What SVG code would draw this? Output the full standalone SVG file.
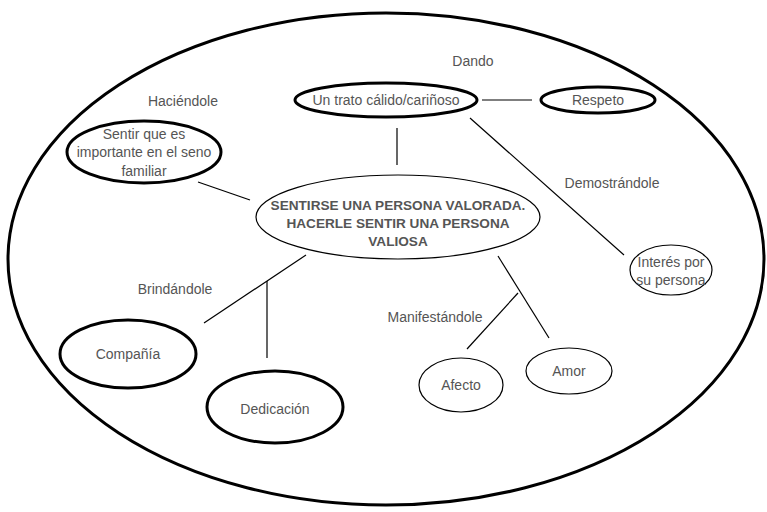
<svg xmlns="http://www.w3.org/2000/svg" width="767" height="512" viewBox="0 0 767 512">
<style>
text{font-family:"Liberation Sans",Arial,sans-serif;font-size:14px;fill:#555;text-anchor:middle}
.b{font-weight:bold;font-size:13.6px}
.thick{fill:none;stroke:#000;stroke-width:3}
.thin{fill:none;stroke:#000;stroke-width:1.2}
.c line{stroke:#000;stroke-width:1.2}
</style>
<rect width="767" height="512" fill="#fff"/>
<ellipse cx="386" cy="259" rx="378" ry="246" class="thick"/>
<g class="c" id="connectors">
<line x1="482" y1="100" x2="532" y2="100"/>
<line x1="397" y1="128" x2="397" y2="165"/>
<line x1="470" y1="118" x2="624" y2="255"/>
<line x1="198" y1="182" x2="250" y2="200"/>
<line x1="306" y1="255" x2="204" y2="323"/>
<line x1="267" y1="281" x2="267" y2="358"/>
<line x1="498" y1="256" x2="549" y2="338"/>
<line x1="518" y1="293" x2="467" y2="349"/>
</g>
<g id="labels">
<text x="473" y="66">Dando</text>
<text x="183" y="106">Haciéndole</text>
<text x="612" y="188">Demostrándole</text>
<text x="175" y="294">Brindándole</text>
<text x="435" y="322">Manifestándole</text>
</g>
<g id="central">
<ellipse cx="398" cy="217" rx="142" ry="42" class="thin"/>
<text class="b" x="398" y="210">SENTIRSE UNA PERSONA VALORADA.</text>
<text class="b" x="398" y="228">HACERLE SENTIR UNA PERSONA</text>
<text class="b" x="398" y="246">VALIOSA</text>
</g>
<g id="trato">
<ellipse cx="386" cy="100" rx="91" ry="17" class="thick"/>
<text x="386" y="105">Un trato cálido/cariñoso</text>
</g>
<g id="respeto">
<ellipse cx="598" cy="100" rx="57" ry="13" class="thick"/>
<text x="598" y="105">Respeto</text>
</g>
<g id="sentir">
<ellipse cx="144" cy="152" rx="77" ry="31" class="thick"/>
<text x="144" y="139">Sentir que es</text>
<text x="144" y="157">importante en el seno</text>
<text x="144" y="176">familiar</text>
</g>
<g id="interes">
<ellipse cx="671" cy="270" rx="41" ry="25" class="thin"/>
<text x="671" y="267">Interés por</text>
<text x="671" y="285">su persona</text>
</g>
<g id="compania">
<ellipse cx="128" cy="354" rx="68" ry="34" class="thick"/>
<text x="128" y="359">Compañía</text>
</g>
<g id="dedicacion">
<ellipse cx="275" cy="407" rx="68" ry="36" class="thick"/>
<text x="275" y="414">Dedicación</text>
</g>
<g id="afecto">
<ellipse cx="461" cy="385" rx="42" ry="27" class="thin"/>
<text x="461" y="390">Afecto</text>
</g>
<g id="amor">
<ellipse cx="569" cy="371" rx="43" ry="23" class="thin"/>
<text x="569" y="376">Amor</text>
</g>
</svg>
